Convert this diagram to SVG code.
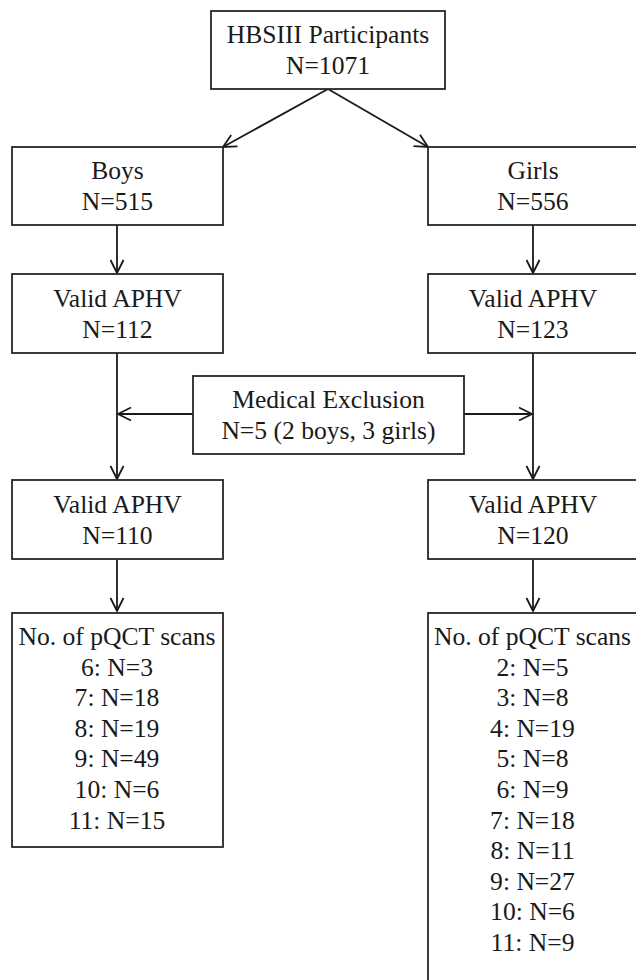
<svg xmlns="http://www.w3.org/2000/svg" width="636" height="980" viewBox="0 0 636 980">
<style>
.box{fill:#fff;stroke:#262626;stroke-width:1.8}
.t{font-size:25.6px;fill:#1a1a1a;text-anchor:middle}
.c{fill:none;stroke:#1a1a1a;stroke-width:1.8}
</style>
<defs>
<marker id="ah" viewBox="-15 -9 17 18" markerWidth="17" markerHeight="18" refX="0" refY="0" orient="auto" markerUnits="userSpaceOnUse">
<path d="M-13,-6.5 L0,0 L-13,6.5" fill="none" stroke="#1a1a1a" stroke-width="1.8"/>
</marker>
</defs>
<rect width="636" height="980" fill="#fff"/>
<g id="connectors">
<line class="c" x1="328" y1="89" x2="223" y2="147" marker-end="url(#ah)"/>
<line class="c" x1="328" y1="89" x2="428" y2="147" marker-end="url(#ah)"/>
<line class="c" x1="117" y1="225" x2="117" y2="273" marker-end="url(#ah)"/>
<line class="c" x1="533" y1="225" x2="533" y2="273" marker-end="url(#ah)"/>
<line class="c" x1="117" y1="353" x2="117" y2="479" marker-end="url(#ah)"/>
<line class="c" x1="533" y1="353" x2="533" y2="479" marker-end="url(#ah)"/>
<line class="c" x1="193" y1="414" x2="118" y2="414" marker-end="url(#ah)"/>
<line class="c" x1="464" y1="414" x2="532" y2="414" marker-end="url(#ah)"/>
<line class="c" x1="117" y1="559" x2="117" y2="611" marker-end="url(#ah)"/>
<line class="c" x1="533" y1="559" x2="533" y2="611" marker-end="url(#ah)"/>
</g>
<g font-family="'Liberation Serif', 'Times New Roman', 'DejaVu Serif', serif">
<g id="participants">
<rect class="box" x="211" y="11" width="234" height="78"/>
<text class="t" x="328" y="43">HBSIII Participants</text>
<text class="t" x="328" y="74">N=1071</text>
</g>
<g id="boys">
<rect class="box" x="12" y="147" width="211" height="78"/>
<text class="t" x="117.5" y="179">Boys</text>
<text class="t" x="117.5" y="210">N=515</text>
</g>
<g id="girls">
<rect class="box" x="428" y="147" width="212" height="78"/>
<text class="t" x="533" y="179">Girls</text>
<text class="t" x="533" y="210">N=556</text>
</g>
<g id="boys-valid-1">
<rect class="box" x="12" y="274" width="211" height="79"/>
<text class="t" x="117.5" y="306.5">Valid APHV</text>
<text class="t" x="117.5" y="337.5">N=112</text>
</g>
<g id="girls-valid-1">
<rect class="box" x="428" y="274" width="212" height="79"/>
<text class="t" x="533" y="306.5">Valid APHV</text>
<text class="t" x="533" y="337.5">N=123</text>
</g>
<g id="medical-exclusion">
<rect class="box" x="193" y="376" width="271" height="78"/>
<text class="t" x="328.5" y="407.5">Medical Exclusion</text>
<text class="t" x="328.5" y="438.5">N=5 (2 boys, 3 girls)</text>
</g>
<g id="boys-valid-2">
<rect class="box" x="12" y="480" width="211" height="79"/>
<text class="t" x="117.5" y="512.5">Valid APHV</text>
<text class="t" x="117.5" y="543.5">N=110</text>
</g>
<g id="girls-valid-2">
<rect class="box" x="428" y="480" width="212" height="79"/>
<text class="t" x="533" y="512.5">Valid APHV</text>
<text class="t" x="533" y="543.5">N=120</text>
</g>
<g id="boys-scans">
<rect class="box" x="12" y="613" width="211" height="234"/>
<text class="t" x="117" y="645">No. of pQCT scans</text>
<text class="t" x="117" y="675.6">6: N=3</text>
<text class="t" x="117" y="706.2">7: N=18</text>
<text class="t" x="117" y="736.8">8: N=19</text>
<text class="t" x="117" y="767.4">9: N=49</text>
<text class="t" x="117" y="798">10: N=6</text>
<text class="t" x="117" y="828.6">11: N=15</text>
</g>
<g id="girls-scans">
<rect class="box" x="428" y="613" width="212" height="380"/>
<text class="t" x="532.5" y="645">No. of pQCT scans</text>
<text class="t" x="532.5" y="675.6">2: N=5</text>
<text class="t" x="532.5" y="706.2">3: N=8</text>
<text class="t" x="532.5" y="736.8">4: N=19</text>
<text class="t" x="532.5" y="767.4">5: N=8</text>
<text class="t" x="532.5" y="798">6: N=9</text>
<text class="t" x="532.5" y="828.6">7: N=18</text>
<text class="t" x="532.5" y="859.2">8: N=11</text>
<text class="t" x="532.5" y="889.8">9: N=27</text>
<text class="t" x="532.5" y="920.4">10: N=6</text>
<text class="t" x="532.5" y="951">11: N=9</text>
</g>
</g>
</svg>
